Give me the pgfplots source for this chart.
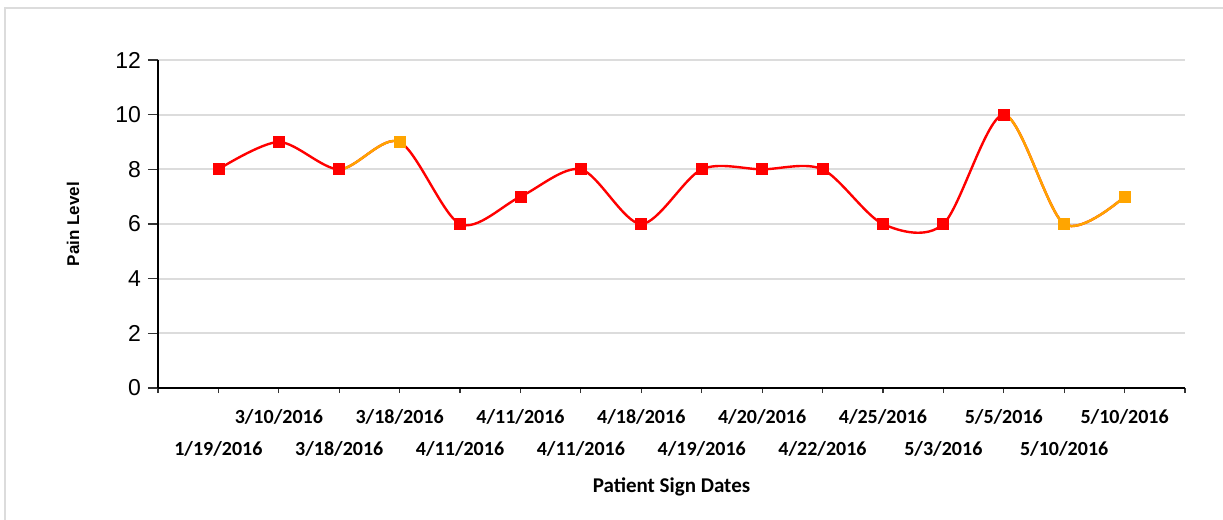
\documentclass[border=0pt]{standalone}
\usepackage{pgfplots}
\pgfplotsset{compat=1.18}
\usepackage{fontspec}
\setmainfont{Liberation Sans}
\newfontfamily\carlito{Carlito}
\definecolor{lred}{RGB}{255,0,0}
\definecolor{lorange}{RGB}{255,165,0}
\definecolor{gridc}{RGB}{220,220,220}
\newcommand{\up}[1]{\rule{0pt}{8pt}#1}
\newcommand{\dn}[1]{\rule{0pt}{24pt}#1}
\begin{document}
\begin{tikzpicture}
\useasboundingbox (0pt,0pt) rectangle (611.5pt,260pt);
\draw[gridc, line width=1.2pt] (2.5pt,0pt) -- (2.5pt,256pt) -- (611.5pt,256pt);
\begin{axis}[
  at={(79pt,66pt)}, anchor=south west,
  scale only axis, width=513.5pt, height=164pt,
  xmin=-1, xmax=16, ymin=0, ymax=12,
  axis x line*=bottom, axis y line*=left,
  axis line style={line width=1.3pt, black},
  xtick={-1,0,...,16},
  xticklabels={{},{\dn{1/19/2016}},{\up{3/10/2016}},{\dn{3/18/2016}},{\up{3/18/2016}},{\dn{4/11/2016}},{\up{4/11/2016}},{\dn{4/11/2016}},{\up{4/18/2016}},{\dn{4/19/2016}},{\up{4/20/2016}},{\dn{4/22/2016}},{\up{4/25/2016}},{\dn{5/3/2016}},{\up{5/5/2016}},{\dn{5/10/2016}},{\up{5/10/2016}},{}},
  ytick={0,2,...,12},
  tick align=outside,
  major tick length=5pt,
  x tick style={black!80, line width=0.6pt, /pgfplots/major tick length=2.5pt},
  y tick style={black!80, line width=0.6pt},
  xticklabel style={font=\fontsize{10}{12}\selectfont\carlito\bfseries, text=black, yshift=-1pt},
  yticklabel style={font=\fontsize{11.5}{12}\selectfont, text=black},
  /pgf/number format/assume math mode=true,
  ymajorgrids, grid style={gridc, line width=1pt},
  xlabel={Patient Sign Dates},
  ylabel={Pain Level},
  xlabel style={font=\fontsize{10.5}{12}\selectfont\carlito\bfseries, at={(axis description cs:0.5,-0.302)}, anchor=center},
  ylabel style={font=\fontsize{8.5}{10}\selectfont\bfseries, at={(axis description cs:-0.0828,0.5)}, anchor=center, rotate=0},
  clip=false,
]
% full curve
\addplot[lred, line width=1.2pt, smooth, tension=0.5, mark=none] coordinates {
(0,8) (1,9) (2,8) (3,9) (4,6) (5,7) (6,8) (7,6) (8,8) (9,8) (10,8) (11,6) (12,6) (13,10) (14,6) (15,7)};
% orange segments (ending at orange points)
\begin{scope}
\clip (axis cs:2,-1) rectangle (axis cs:3,13);
\addplot[lorange, line width=1.2pt, smooth, tension=0.5, mark=none] coordinates {(1,9) (2,8) (3,9) (4,6)};
\end{scope}
\begin{scope}
\clip (axis cs:13,-1) rectangle (axis cs:15.5,13);
\addplot[lorange, line width=1.2pt, smooth, tension=0.5, mark=none] coordinates {(12,6) (13,10) (14,6) (15,7)};
\end{scope}
% markers
\addplot[only marks, mark=square*, mark size=2.75pt, lred, mark options={fill=lred, draw=lred}] coordinates {
(0,8) (1,9) (2,8) (4,6) (5,7) (6,8) (7,6) (8,8) (9,8) (10,8) (11,6) (12,6) (13,10)};
\addplot[only marks, mark=square*, mark size=2.75pt, lorange, mark options={fill=lorange, draw=lorange}] coordinates {
(3,9) (14,6) (15,7)};
\end{axis}
\end{tikzpicture}
\end{document}
